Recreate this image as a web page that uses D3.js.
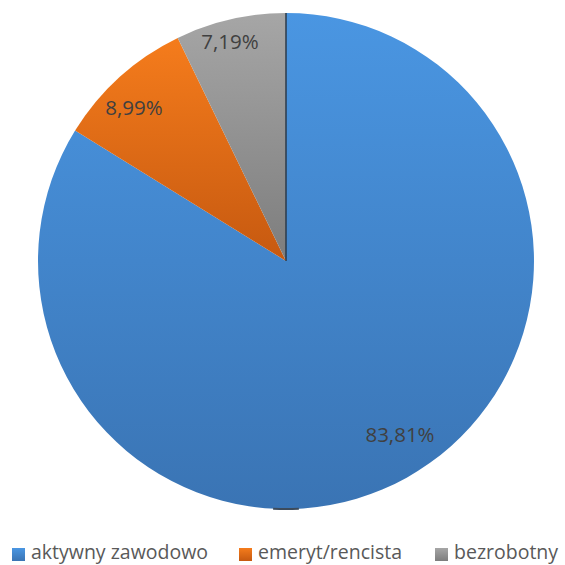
<!DOCTYPE html>
<html>
<head>
<meta charset="utf-8">
<script src="https://cdn.jsdelivr.net/npm/d3@7"></script>
<style>
  html, body { margin: 0; padding: 0; background: #fff; }
  svg { display: block; }
</style>
</head>
<body>
<svg id="chart" width="565" height="565"></svg>
<script>
// Struktura respondentów wg statusu zawodowego
const categories = ["aktywny zawodowo", "emeryt/rencista", "bezrobotny"];
const values = [83.81, 8.99, 7.19];
const labels = ["83,81%", "8,99%", "7,19%"];

// gradient stops per category: [top, bottom]
const colorsTop = ["#4a96e2", "#f57c1c", "#a6a6a6"];
const colorsBottom = ["#3a74b4", "#c65910", "#7d7d7d"];

const W = 565, H = 565;
const cx = 286, cy = 261, R = 248;

const svg = d3.select("#chart");
const defs = svg.append("defs");

categories.forEach((c, i) => {
  const g = defs.append("linearGradient")
    .attr("id", "grad" + i)
    .attr("x1", 0).attr("y1", 0).attr("x2", 0).attr("y2", 1);
  g.append("stop").attr("offset", "0%").attr("stop-color", colorsTop[i]);
  g.append("stop").attr("offset", "100%").attr("stop-color", colorsBottom[i]);
});

const pie = d3.pie().sort(null).value(d => d)(values);
const arc = d3.arc().innerRadius(0).outerRadius(R);

const gPie = svg.append("g").attr("transform", `translate(${cx},${cy})`);

gPie.selectAll("path.slice")
  .data(pie)
  .join("path")
  .attr("class", "slice")
  .attr("d", arc)
  .attr("fill", (d, i) => `url(#grad${i})`);

// dark edge along the start of the first slice
const edge = d3.lineRadial();
gPie.append("path")
  .attr("d", edge([[pie[0].startAngle, 0], [pie[0].startAngle, R]]))
  .attr("stroke", "#2b3a4a")
  .attr("stroke-width", 1.5)
  .attr("fill", "none");

// small dark mark at the bottom of the rim
gPie.append("path")
  .attr("d", d3.arc().innerRadius(R - 1).outerRadius(R + 1)
    .startAngle(Math.PI - 0.052).endAngle(Math.PI + 0.052)())
  .attr("fill", "#3c4b5c");

// data labels
const labelPos = [
  [114, 176],
  [-152, -151],
  [-56, -217]
];
gPie.selectAll("text.lbl")
  .data(pie)
  .join("text")
  .attr("class", "lbl")
  .attr("x", (d, i) => labelPos[i][0])
  .attr("y", (d, i) => labelPos[i][1])
  .attr("text-anchor", "middle")
  .attr("dominant-baseline", "middle")
  .attr("font-family", "'Open Sans', sans-serif")
  .attr("font-size", 20.5)
  .attr("fill", "#404040")
  .text((d, i) => labels[i]);

// legend
const legendX = [12, 239, 435];
const lg = svg.append("g").attr("transform", "translate(0,554)");
const items = lg.selectAll("g.item")
  .data(categories)
  .join("g")
  .attr("class", "item")
  .attr("transform", (d, i) => `translate(${legendX[i]},0)`);
items.append("rect")
  .attr("x", 0).attr("y", -6)
  .attr("width", 13).attr("height", 13)
  .attr("fill", (d, i) => `url(#grad${i})`);
items.append("text")
  .attr("x", 19).attr("y", 0)
  .attr("dominant-baseline", "middle")
  .attr("font-family", "'Open Sans', sans-serif")
  .attr("font-size", 19.5)
  .attr("fill", "#595959")
  .text(d => d);
</script>
</body>
</html>
